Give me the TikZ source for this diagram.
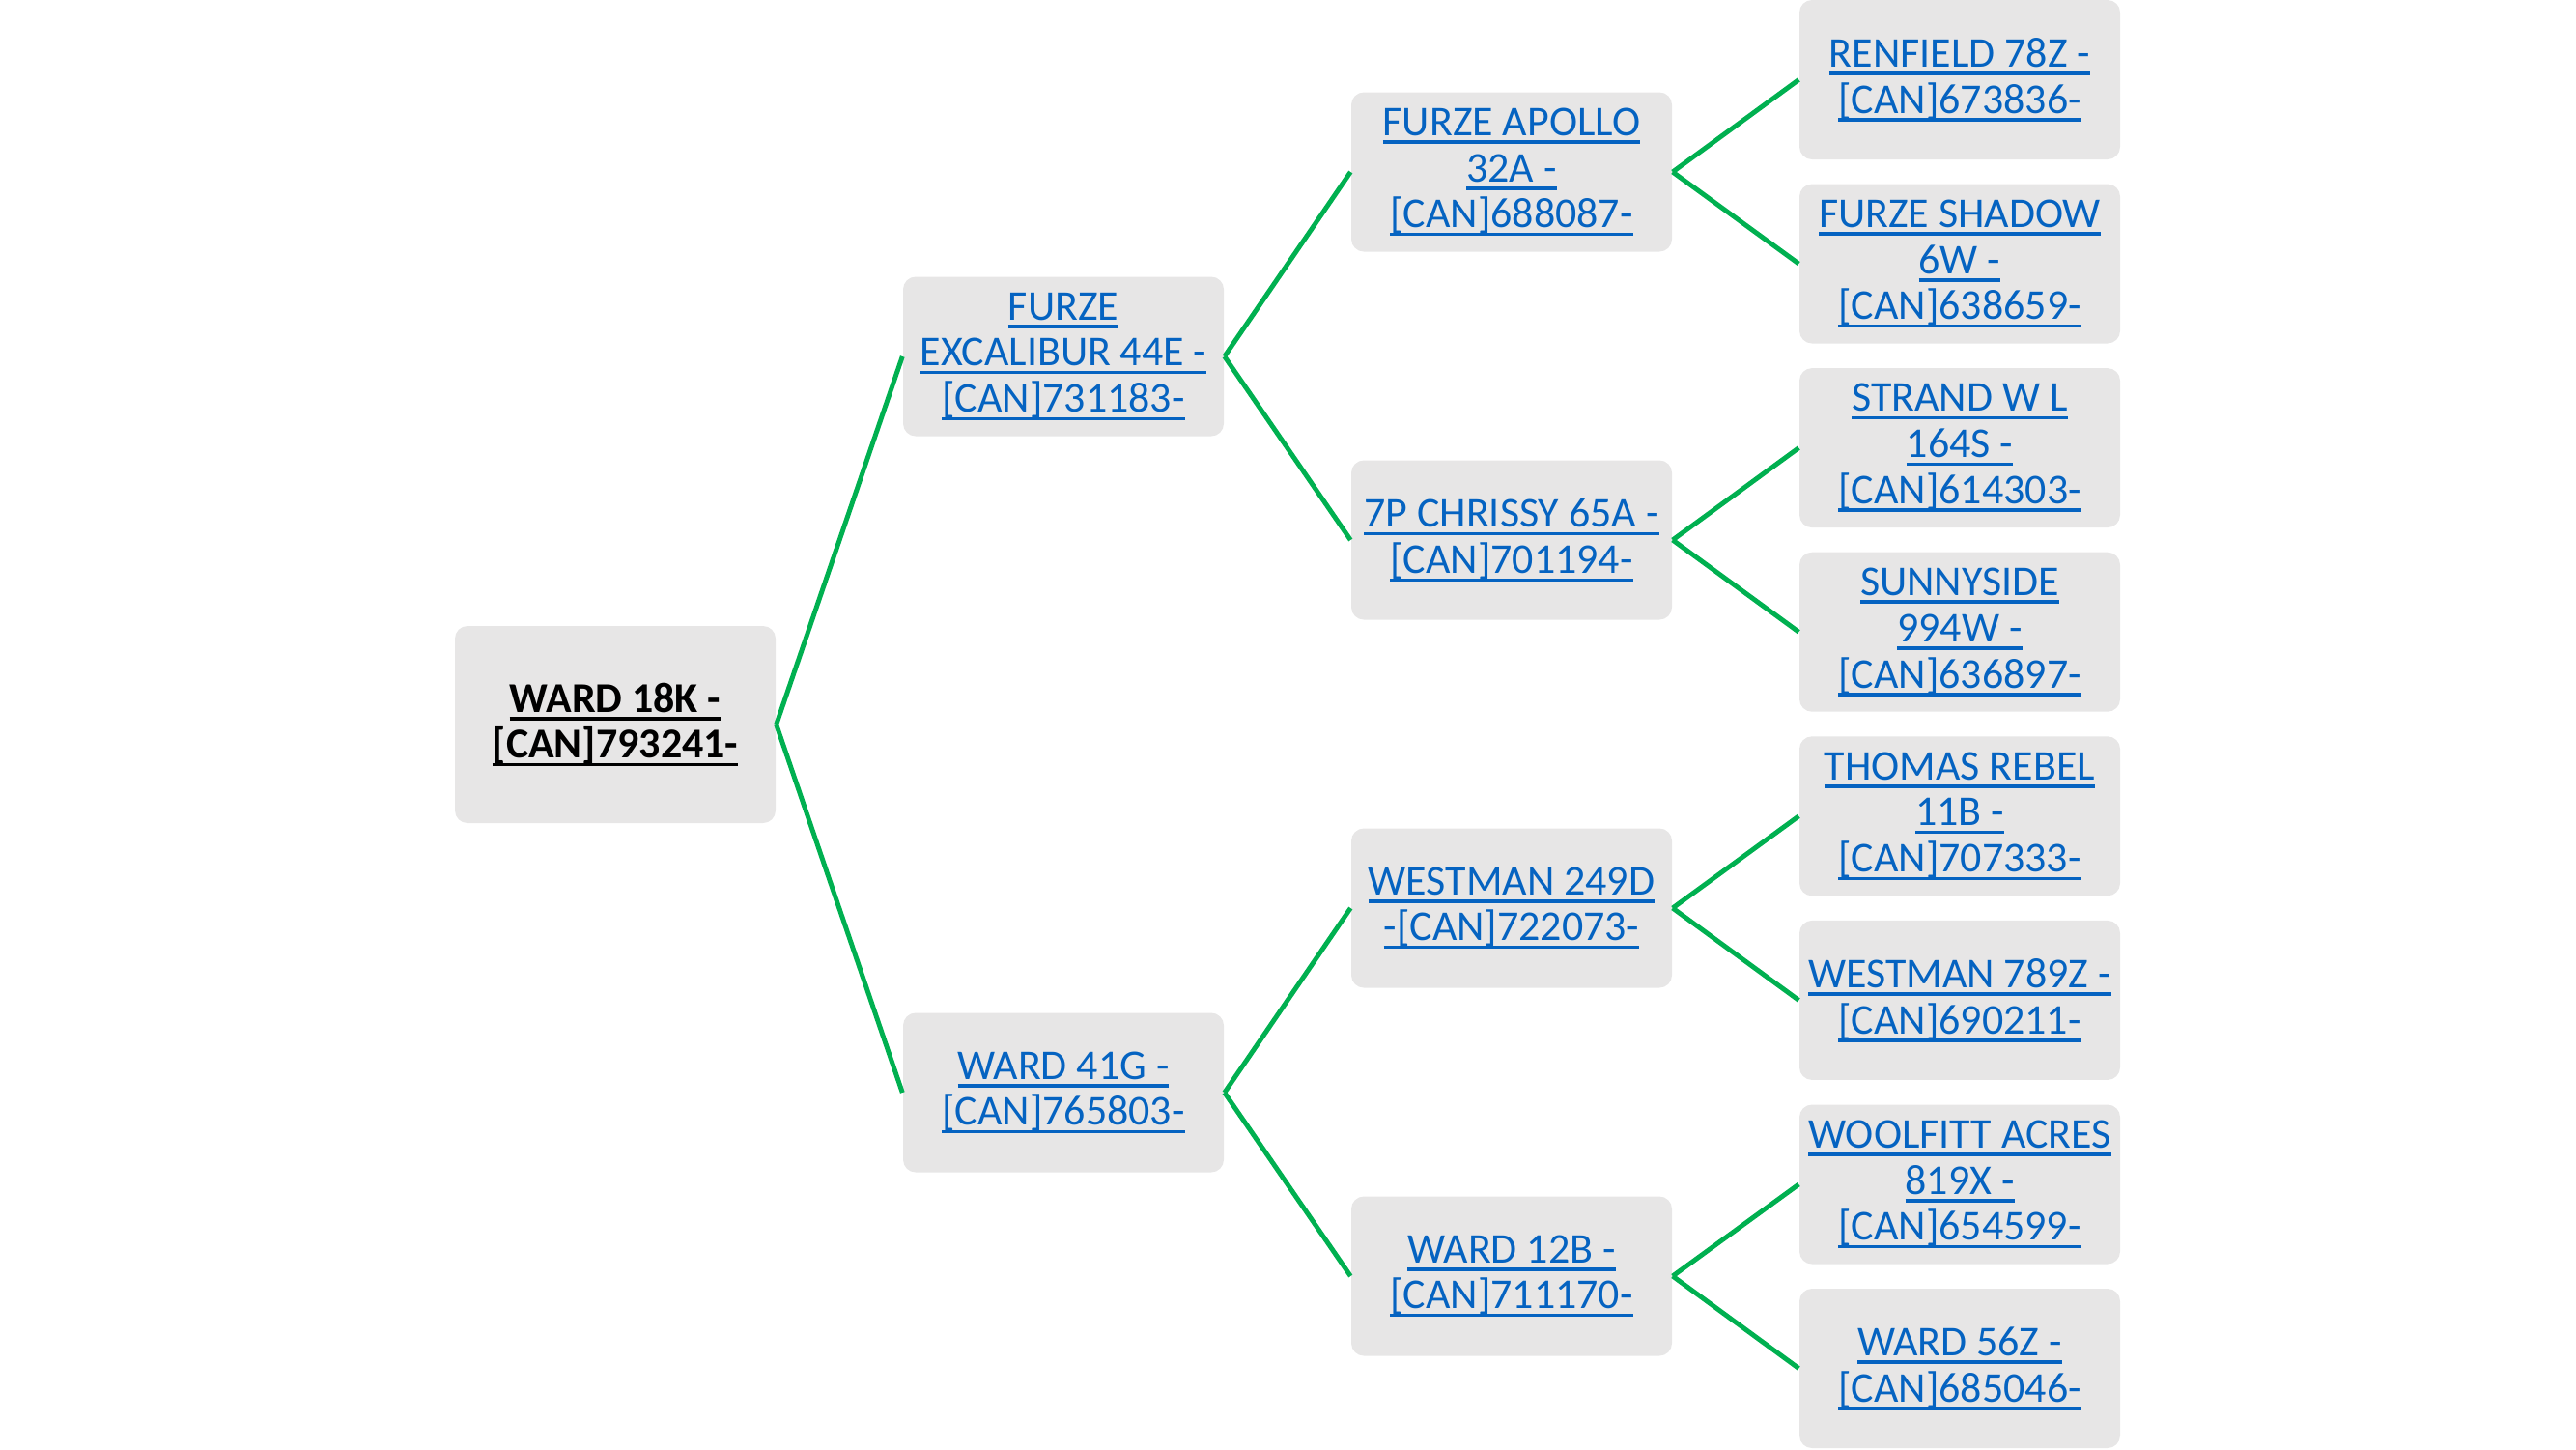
\documentclass[tikz,border=0pt]{standalone}
\usepackage{fontspec}
\setmainfont{Carlito}
\usetikzlibrary{positioning}
\definecolor{BoxGray}{RGB}{231,230,230}
\definecolor{LinkBlue}{RGB}{5,99,193}
\definecolor{TreeGreen}{RGB}{0,176,80}
\newcommand{\lnk}[1]{\setbox0\hbox{#1}\rlap{\rule[-0.085cm]{\wd0}{0.035cm}}\box0}
\tikzset{
  animal/.style={fill=BoxGray,rounded corners=0.13cm,minimum width=3.32cm,
    minimum height=1.65cm,align=center,inner sep=1pt,text=LinkBlue,
    font=\fontsize{12.5}{13.6}\selectfont},
  subject/.style={animal,minimum height=2.04cm,text=black,
    font=\fontsize{12.5}{13.6}\selectfont\bfseries},
  link/.style={TreeGreen,line width=1.4pt}
}
\begin{document}
\begin{tikzpicture}
  \useasboundingbox (0,0) rectangle (26.67,-15);
  % subject
  \node[subject] (ward18k) at (6.37,-7.50) {\lnk{WARD 18K -}\\\lnk{[CAN]793241-}};
  % parents
  \node[animal] (excal44e) at (11.01,-3.69) {\lnk{FURZE}\\\lnk{EXCALIBUR 44E -}\\\lnk{[CAN]731183-}};
  \node[animal] (ward41g) at (11.01,-11.31) {\lnk{WARD 41G -}\\\lnk{[CAN]765803-}};
  % grandparents
  \node[animal] (apollo32a) at (15.65,-1.78) {\lnk{FURZE APOLLO}\\\lnk{32A -}\\\lnk{[CAN]688087-}};
  \node[animal] (chrissy65a) at (15.65,-5.59) {\lnk{7P CHRISSY 65A -}\\\lnk{[CAN]701194-}};
  \node[animal] (westman249d) at (15.65,-9.40) {\lnk{WESTMAN 249D}\\\lnk{-[CAN]722073-}};
  \node[animal] (ward12b) at (15.65,-13.21) {\lnk{WARD 12B -}\\\lnk{[CAN]711170-}};
  % great-grandparents
  \node[animal] (renfield78z) at (20.29,-0.825) {\lnk{RENFIELD 78Z -}\\\lnk{[CAN]673836-}};
  \node[animal] (shadow6w) at (20.29,-2.730) {\lnk{FURZE SHADOW}\\\lnk{6W -}\\\lnk{[CAN]638659-}};
  \node[animal] (strand164s) at (20.29,-4.636) {\lnk{STRAND W L}\\\lnk{164S -}\\\lnk{[CAN]614303-}};
  \node[animal] (sunny994w) at (20.29,-6.542) {\lnk{SUNNYSIDE}\\\lnk{994W -}\\\lnk{[CAN]636897-}};
  \node[animal] (rebel11b) at (20.29,-8.448) {\lnk{THOMAS REBEL}\\\lnk{11B -}\\\lnk{[CAN]707333-}};
  \node[animal] (westman789z) at (20.29,-10.354) {\lnk{WESTMAN 789Z -}\\\lnk{[CAN]690211-}};
  \node[animal] (woolfitt819x) at (20.29,-12.260) {\lnk{WOOLFITT ACRES}\\\lnk{819X -}\\\lnk{[CAN]654599-}};
  \node[animal] (ward56z) at (20.29,-14.165) {\lnk{WARD 56Z -}\\\lnk{[CAN]685046-}};
  % connectors
  \draw[link] (ward18k.east) -- (excal44e.west);
  \draw[link] (ward18k.east) -- (ward41g.west);
  \draw[link] (excal44e.east) -- (apollo32a.west);
  \draw[link] (excal44e.east) -- (chrissy65a.west);
  \draw[link] (ward41g.east) -- (westman249d.west);
  \draw[link] (ward41g.east) -- (ward12b.west);
  \draw[link] (apollo32a.east) -- (renfield78z.west);
  \draw[link] (apollo32a.east) -- (shadow6w.west);
  \draw[link] (chrissy65a.east) -- (strand164s.west);
  \draw[link] (chrissy65a.east) -- (sunny994w.west);
  \draw[link] (westman249d.east) -- (rebel11b.west);
  \draw[link] (westman249d.east) -- (westman789z.west);
  \draw[link] (ward12b.east) -- (woolfitt819x.west);
  \draw[link] (ward12b.east) -- (ward56z.west);
\end{tikzpicture}
\end{document}
